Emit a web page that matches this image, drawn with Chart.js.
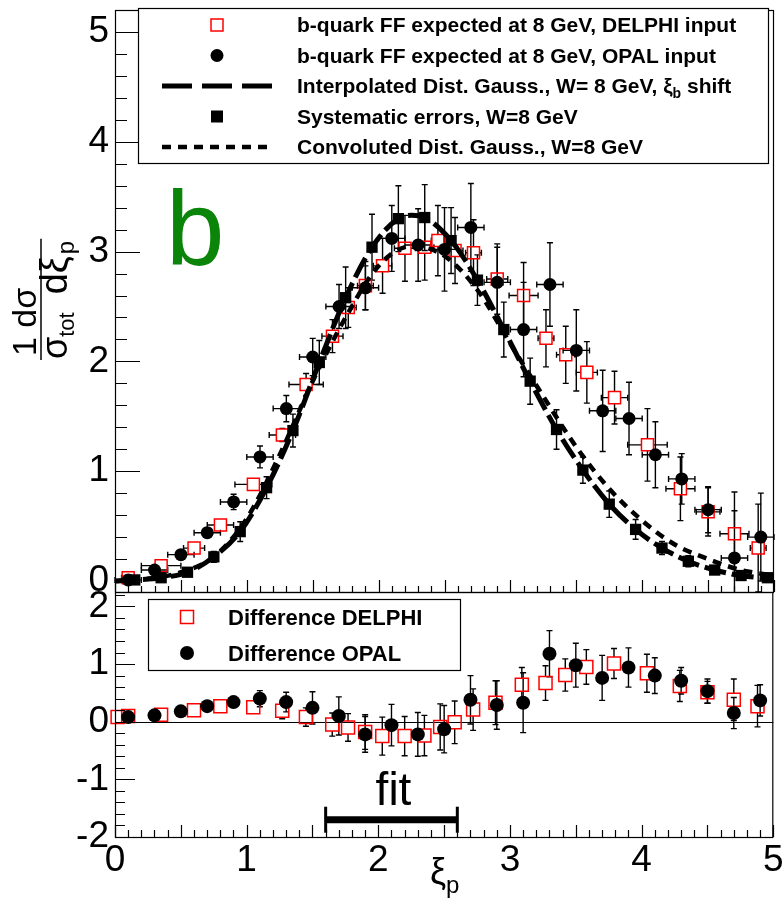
<!DOCTYPE html>
<html>
<head>
<meta charset="utf-8">
<script src="https://cdn.jsdelivr.net/npm/chart.js@4.4.0/dist/chart.umd.min.js"></script>
<style>
  body { margin: 0; background: #fff; }
  #wrap { position: relative; width: 784px; height: 900px; }
  #wrap canvas { position: absolute; left: 0; top: 0; }
</style>
</head>
<body>
<div id="wrap">
  <canvas id="topPanel" width="784" height="900"></canvas>
  <canvas id="bottomPanel" width="784" height="900"></canvas>
</div>
<script>
const FONT = '"Liberation Sans", Arial, Helvetica, sans-serif';

// ---- upper panel: fragmentation function ----
const delphiX = [0.1, 0.35, 0.6, 0.8, 1.05, 1.27, 1.45, 1.65, 1.77, 1.9, 2.03, 2.2, 2.35, 2.45, 2.58, 2.72, 2.9, 3.1, 3.27, 3.42, 3.58, 3.79, 4.04, 4.29, 4.5, 4.7, 4.88];
const delphiY = [0.03, 0.14, 0.3, 0.51, 0.88, 1.33, 1.79, 2.23, 2.49, 2.69, 2.87, 3.03, 3.04, 3.1, 3.01, 2.99, 2.75, 2.6, 2.21, 2.06, 1.9, 1.67, 1.24, 0.84, 0.63, 0.43, 0.3];
const delphiXErr = [0.05, 0.15, 0.08, 0.1, 0.14, 0.1, 0.13, 0.08, 0.06, 0.06, 0.07, 0.08, 0.07, 0.05, 0.06, 0.06, 0.08, 0.11, 0.06, 0.07, 0.08, 0.1, 0.15, 0.11, 0.09, 0.11, 0.06];
const delphiYErr = [0.02, 0.02, 0.03, 0.03, 0.04, 0.06, 0.1, 0.15, 0.18, 0.22, 0.25, 0.3, 0.3, 0.32, 0.3, 0.3, 0.32, 0.3, 0.26, 0.26, 0.28, 0.24, 0.33, 0.29, 0.22, 0.38, 0.4];

const opalX = [0.1, 0.3, 0.5, 0.7, 0.9, 1.1, 1.3, 1.5, 1.7, 1.9, 2.1, 2.3, 2.5, 2.7, 2.9, 3.1, 3.3, 3.5, 3.7, 3.9, 4.1, 4.3, 4.5, 4.7, 4.9];
const opalY = [0.01, 0.1, 0.24, 0.44, 0.72, 1.13, 1.57, 2.04, 2.5, 2.67, 3.12, 3.06, 3.02, 3.22, 2.72, 2.29, 2.7, 2.1, 1.55, 1.48, 1.15, 0.93, 0.65, 0.21, 0.4];
const opalXErr = [0.1, 0.1, 0.1, 0.1, 0.1, 0.1, 0.1, 0.1, 0.1, 0.1, 0.1, 0.1, 0.1, 0.1, 0.1, 0.1, 0.1, 0.1, 0.1, 0.1, 0.1, 0.1, 0.1, 0.1, 0.1];
const opalYErr = [0.02, 0.03, 0.03, 0.04, 0.07, 0.1, 0.12, 0.17, 0.2, 0.2, 0.3, 0.33, 0.38, 0.4, 0.32, 0.43, 0.38, 0.37, 0.37, 0.33, 0.3, 0.23, 0.21, 0.43, 0.4];

const sysX = [0.15, 0.35, 0.55, 0.75, 0.95, 1.15, 1.35, 1.55, 1.75, 1.95, 2.15, 2.35, 2.55, 2.75, 2.95, 3.15, 3.35, 3.55, 3.75, 3.95, 4.15, 4.35, 4.55, 4.75, 4.95];
const sysY = [0.01, 0.03, 0.08, 0.22, 0.45, 0.85, 1.37, 1.99, 2.58, 3.04, 3.3, 3.31, 3.1, 2.74, 2.29, 1.82, 1.38, 1.01, 0.7, 0.47, 0.3, 0.18, 0.1, 0.05, 0.03];
const sysYErr = [0.01, 0.02, 0.03, 0.05, 0.09, 0.1, 0.15, 0.2, 0.28, 0.3, 0.3, 0.3, 0.3, 0.23, 0.25, 0.21, 0.18, 0.12, 0.12, 0.09, 0.06, 0.05, 0.03, 0.02, 0.02];

const interpX = [0, 0.15, 0.35, 0.55, 0.75, 0.95, 1.15, 1.35, 1.55, 1.75, 1.95, 2.15, 2.25, 2.35, 2.55, 2.75, 2.95, 3.15, 3.35, 3.55, 3.75, 3.95, 4.15, 4.35, 4.55, 4.75, 4.95, 5.0];
const interpY = [0, 0.01, 0.03, 0.08, 0.22, 0.45, 0.85, 1.37, 1.99, 2.58, 3.04, 3.3, 3.33, 3.31, 3.1, 2.74, 2.29, 1.82, 1.38, 1.01, 0.7, 0.47, 0.3, 0.18, 0.1, 0.05, 0.03, 0.03];

const convX = [0, 0.25, 0.5, 0.75, 1.0, 1.25, 1.5, 1.75, 2.0, 2.25, 2.5, 2.75, 3.0, 3.25, 3.5, 3.75, 4.0, 4.25, 4.5, 4.75, 5.0];
const convY = [0.0, 0.02, 0.08, 0.22, 0.57, 1.15, 1.82, 2.4, 2.87, 3.05, 2.96, 2.65, 2.16, 1.68, 1.22, 0.84, 0.55, 0.33, 0.2, 0.1, 0.05];

// ---- lower panel: differences ----
const diffDelphiX = [0.02, 0.1, 0.35, 0.6, 0.8, 1.05, 1.27, 1.45, 1.65, 1.77, 1.9, 2.03, 2.2, 2.35, 2.47, 2.58, 2.72, 2.89, 3.09, 3.27, 3.42, 3.58, 3.79, 4.04, 4.29, 4.5, 4.7, 4.88];
const diffDelphiY = [0.08, 0.1, 0.12, 0.2, 0.27, 0.25, 0.19, 0.08, -0.05, -0.1, -0.18, -0.25, -0.25, -0.24, -0.09, -0.01, 0.21, 0.33, 0.64, 0.67, 0.81, 0.95, 1.01, 0.84, 0.62, 0.51, 0.38, 0.27];
const diffDelphiErr = [0.01, 0.01, 0.01, 0.02, 0.03, 0.1, 0.14, 0.16, 0.2, 0.24, 0.3, 0.33, 0.34, 0.35, 0.4, 0.37, 0.36, 0.38, 0.3, 0.3, 0.28, 0.3, 0.26, 0.33, 0.27, 0.19, 0.36, 0.36];

const diffOpalX = [0.1, 0.3, 0.5, 0.7, 0.9, 1.1, 1.3, 1.5, 1.7, 1.9, 2.1, 2.3, 2.5, 2.7, 2.9, 3.1, 3.3, 3.5, 3.7, 3.9, 4.1, 4.3, 4.5, 4.7, 4.9];
const diffOpalY = [0.08, 0.11, 0.18, 0.27, 0.34, 0.4, 0.34, 0.24, 0.1, -0.22, -0.06, -0.22, -0.13, 0.38, 0.29, 0.33, 1.18, 0.98, 0.76, 0.94, 0.8, 0.71, 0.53, 0.15, 0.37];
const diffOpalErr = [0.01, 0.01, 0.02, 0.03, 0.05, 0.14, 0.17, 0.28, 0.33, 0.31, 0.36, 0.38, 0.41, 0.42, 0.42, 0.52, 0.4, 0.38, 0.39, 0.34, 0.31, 0.23, 0.21, 0.27, 0.27];

// ---- axes, labels ----
const xTicks = [0, 1, 2, 3, 4, 5];
const yTicksTop = [0, 1, 2, 3, 4, 5];
const yTicksBottom = [-2, -1, 0, 1, 2];
const fitRange = [1.6, 2.6];
const fitLevel = -1.7;

const legendTop = [
  'b-quark FF expected at 8 GeV, DELPHI input',
  'b-quark FF expected at 8 GeV, OPAL input',
  'Interpolated Dist. Gauss., W= 8 GeV, ',
  'Systematic errors, W=8 GeV',
  'Convoluted Dist. Gauss., W=8 GeV'
];
const legendBottom = ['Difference DELPHI', 'Difference OPAL'];

const pts = (xs, ys) => xs.map((x, i) => ({ x, y: ys[i] }));

function seg(ctx, x1, y1, x2, y2) {
  ctx.beginPath(); ctx.moveTo(x1, y1); ctx.lineTo(x2, y2); ctx.stroke();
}

// error bars (ROOT style, black, with small end caps, gap around open markers)
const errorBars = {
  id: 'errorBars',
  beforeDatasetsDraw(chart) {
    const { ctx, chartArea: a, scales: { x, y } } = chart;
    ctx.save();
    ctx.beginPath();
    ctx.rect(a.left - 10, a.top, a.width + 20, a.height);
    ctx.clip();
    ctx.strokeStyle = '#000';
    ctx.lineWidth = 1.4;
    chart.data.datasets.forEach(ds => {
      if (!ds.errY) return;
      const gap = ds.barGap || 0, cap = 3;
      ctx.beginPath();
      ds.data.forEach((p, i) => {
        const px = x.getPixelForValue(p.x), py = y.getPixelForValue(p.y);
        const ey = ds.errY[i] || 0, ex = ds.errX ? ds.errX[i] : 0;
        if (ey) {
          const t = y.getPixelForValue(p.y + ey), b = y.getPixelForValue(p.y - ey);
          if (py - t > gap) { ctx.moveTo(px, py - gap); ctx.lineTo(px, t); ctx.moveTo(px - cap, t); ctx.lineTo(px + cap, t); }
          if (b - py > gap) { ctx.moveTo(px, py + gap); ctx.lineTo(px, b); ctx.moveTo(px - cap, b); ctx.lineTo(px + cap, b); }
        }
        if (ex) {
          const l = x.getPixelForValue(p.x - ex), r = x.getPixelForValue(p.x + ex);
          if (px - l > gap) { ctx.moveTo(px - gap, py); ctx.lineTo(l, py); ctx.moveTo(l, py - cap); ctx.lineTo(l, py + cap); }
          if (r - px > gap) { ctx.moveTo(px + gap, py); ctx.lineTo(r, py); ctx.moveTo(r, py - cap); ctx.lineTo(r, py + cap); }
        }
      });
      ctx.stroke();
    });
    ctx.restore();
  }
};

// frame + inward ticks
const rootAxes = {
  id: 'rootAxes',
  afterDatasetsDraw(chart, args, o) {
    const { ctx, chartArea: a, scales: { x, y } } = chart;
    const each = (min, max, step, fn) => {
      for (let k = Math.ceil(min / step - 1e-6); k * step <= max + 1e-6; k++) fn(k * step, k);
    };
    ctx.save();
    ctx.strokeStyle = '#000';
    ctx.lineWidth = 1.2;
    ctx.strokeRect(a.left + 0.5, a.top + 0.5, a.width - 1, a.height);
    ctx.beginPath();
    const yr = Math.round(o.yMajor / o.yMinor), xr = Math.round(o.xMajor / o.xMinor);
    each(y.min, y.max, o.yMinor, (v, k) => {
      const p = Math.round(y.getPixelForValue(v)) + 0.5;
      ctx.moveTo(a.left, p); ctx.lineTo(a.left + (k % yr === 0 ? o.yMajorLen : o.yMinorLen), p);
    });
    each(x.min, x.max, o.xMinor, (v, k) => {
      const p = Math.round(x.getPixelForValue(v)) + 0.5;
      ctx.moveTo(p, a.bottom); ctx.lineTo(p, a.bottom - (k % xr === 0 ? o.xMajorLen : o.xMinorLen));
    });
    ctx.stroke();
    ctx.restore();
  }
};

function richText(ctx, parts, x, y) {
  parts.forEach(([t, font, dy, dx]) => {
    ctx.font = font;
    x += dx || 0;
    ctx.fillText(t, x, y + (dy || 0));
    x += ctx.measureText(t).width;
  });
  return x;
}

const topDecor = {
  id: 'topDecor',
  afterDraw(chart) {
    const ctx = chart.ctx;
    ctx.save();
    // big green "b"
    ctx.fillStyle = '#0a850a';
    ctx.font = `105px ${FONT}`;
    ctx.textBaseline = 'alphabetic';
    ctx.fillText('b', 166, 265);

    // legend
    ctx.fillStyle = '#fff';
    ctx.fillRect(138, 8, 631, 156);
    ctx.strokeStyle = '#000';
    ctx.lineWidth = 1.2;
    ctx.strokeRect(138.5, 8.5, 630, 155);
    const rows = [25, 55.5, 86, 116.5, 147];
    const sx = 217;
    ctx.strokeStyle = '#ff0000'; ctx.lineWidth = 1.5;
    ctx.strokeRect(sx - 6, rows[0] - 6, 12, 12);
    ctx.fillStyle = '#000';
    ctx.beginPath(); ctx.arc(sx, rows[1], 6.5, 0, Math.PI * 2); ctx.fill();
    ctx.strokeStyle = '#000'; ctx.lineWidth = 5; ctx.setLineDash([30, 10]);
    seg(ctx, 162, rows[2], 272, rows[2]);
    ctx.setLineDash([]);
    ctx.fillRect(sx - 6, rows[3] - 6, 12, 12);
    ctx.lineWidth = 4.5; ctx.setLineDash([9, 7]);
    seg(ctx, 162, rows[4], 272, rows[4]);
    ctx.setLineDash([]);

    ctx.fillStyle = '#000';
    ctx.textBaseline = 'alphabetic';
    const bold = `bold 21px ${FONT}`;
    legendTop.forEach((t, i) => {
      if (i === 2) {
        richText(ctx, [[t, bold], ['ξ', bold], ['b', `bold 14px ${FONT}`, 5], [' shift', bold]], 297, rows[i] + 7);
      } else {
        ctx.font = bold;
        ctx.fillText(t, 297, rows[i] + 7);
      }
    });

    // y-axis title: 1/sigma_tot dsigma/dxi_p
    ctx.translate(41, 360);
    ctx.rotate(-Math.PI / 2);
    ctx.font = `34px ${FONT}`;
    ctx.fillText('1 dσ', 4, -5);
    const end = richText(ctx, [
      ['σ', `36px ${FONT}`, 26, 1],
      ['tot', `22px ${FONT}`, 33],
      ['dξ', `38px ${FONT}`, 26, 18],
      ['p', `24px ${FONT}`, 33, 2]
    ], 0, 0);
    ctx.lineWidth = 1.5;
    seg(ctx, 0, 0, end + 2, 0);
    ctx.restore();
  }
};

const bottomDecor = {
  id: 'bottomDecor',
  beforeDatasetsDraw(chart) {
    const { ctx, chartArea: a, scales: { y } } = chart;
    ctx.save();
    ctx.strokeStyle = '#000'; ctx.lineWidth = 1.2;
    const p = Math.round(y.getPixelForValue(0)) + 0.5;
    seg(ctx, a.left, p, a.right, p);
    ctx.restore();
  },
  afterDraw(chart) {
    const { ctx, scales: { x, y } } = chart;
    ctx.save();
    // legend
    ctx.fillStyle = '#fff';
    ctx.fillRect(148, 599, 313, 72);
    ctx.strokeStyle = '#000'; ctx.lineWidth = 1.2;
    ctx.strokeRect(148.5, 599.5, 312, 71);
    const rows = [617, 653], sx = 187;
    ctx.strokeStyle = '#ff0000'; ctx.lineWidth = 1.5;
    ctx.strokeRect(sx - 6.5, rows[0] - 6.5, 13, 13);
    ctx.fillStyle = '#000';
    ctx.beginPath(); ctx.arc(sx, rows[1], 7, 0, Math.PI * 2); ctx.fill();
    ctx.font = `bold 22px ${FONT}`;
    ctx.textBaseline = 'alphabetic';
    legendBottom.forEach((t, i) => ctx.fillText(t, 228, rows[i] + 8));

    // fit range bar
    const x1 = x.getPixelForValue(fitRange[0]), x2 = x.getPixelForValue(fitRange[1]);
    const fy = y.getPixelForValue(fitLevel);
    ctx.strokeStyle = '#000';
    ctx.lineWidth = 7;
    seg(ctx, x1, fy, x2, fy);
    ctx.lineWidth = 3;
    seg(ctx, x1, fy - 13, x1, fy + 13);
    seg(ctx, x2, fy - 13, x2, fy + 13);
    ctx.font = `46px ${FONT}`;
    ctx.textAlign = 'center';
    ctx.fillText('fit', (x1 + x2) / 2 + 2, fy - 15);

    // x-axis title
    ctx.textAlign = 'left';
    richText(ctx, [['ξ', `36px ${FONT}`], ['p', `24px ${FONT}`, 9]], 430, 884);
    ctx.restore();
  }
};

const noGrid = { display: false, drawTicks: false };
const tickFont = { family: FONT, size: 37 };

new Chart(document.getElementById('topPanel'), {
  type: 'scatter',
  data: {
    datasets: [
      { label: 'DELPHI', data: pts(delphiX, delphiY), errX: delphiXErr, errY: delphiYErr, barGap: 6,
        pointStyle: 'rect', pointRadius: 8.5, borderColor: '#ff0000', borderWidth: 1.5,
        backgroundColor: 'rgba(0,0,0,0)', order: 5, clip: false },
      { label: 'OPAL', data: pts(opalX, opalY), errX: opalXErr, errY: opalYErr,
        pointStyle: 'circle', pointRadius: 6.5, backgroundColor: '#000', borderWidth: 0, order: 4, clip: false },
      { label: 'Convoluted', data: pts(convX, convY), showLine: true, borderColor: '#000', borderWidth: 4.5,
        borderDash: [9, 7], pointRadius: 0, cubicInterpolationMode: 'monotone', order: 3 },
      { label: 'Interpolated', data: pts(interpX, interpY), showLine: true, borderColor: '#000', borderWidth: 5,
        borderDash: [22, 6], pointRadius: 0, cubicInterpolationMode: 'monotone', order: 2 },
      { label: 'Systematic', data: pts(sysX, sysY), errY: sysYErr,
        pointStyle: 'rect', pointRadius: 8, backgroundColor: '#000', borderWidth: 0, order: 1 }
    ]
  },
  options: {
    responsive: false,
    animation: false,
    devicePixelRatio: 1,
    events: [],
    layout: { padding: { top: 5, right: 7, bottom: 0, left: 0 } },
    scales: {
      x: {
        type: 'linear', min: 0, max: 5,
        grid: noGrid, border: { display: false }, ticks: { display: false },
        afterFit(s) { s.height = 308; s.paddingLeft = 0; s.paddingRight = 0; }
      },
      y: {
        type: 'linear', min: -0.1, max: 5.2,
        grid: noGrid, border: { display: false },
        ticks: { color: '#000', font: tickFont, padding: 6 },
        afterBuildTicks(s) { s.ticks = yTicksTop.map(v => ({ value: v })); },
        afterFit(s) { s.width = 115; s.paddingTop = 0; s.paddingBottom = 0; }
      }
    },
    plugins: {
      legend: { display: false },
      tooltip: { enabled: false },
      rootAxes: { yMajor: 1, yMinor: 0.2, yMajorLen: 25, yMinorLen: 12, xMajor: 0.5, xMinor: 0.1, xMajorLen: 12, xMinorLen: 6 }
    }
  },
  plugins: [errorBars, rootAxes, topDecor]
});

new Chart(document.getElementById('bottomPanel'), {
  type: 'scatter',
  data: {
    datasets: [
      { label: 'Difference DELPHI', data: pts(diffDelphiX, diffDelphiY), errY: diffDelphiErr, barGap: 6.5,
        pointStyle: 'rect', pointRadius: 9.2, borderColor: '#ff0000', borderWidth: 1.5,
        backgroundColor: 'rgba(0,0,0,0)', order: 2, clip: false },
      { label: 'Difference OPAL', data: pts(diffOpalX, diffOpalY), errY: diffOpalErr,
        pointStyle: 'circle', pointRadius: 7, backgroundColor: '#000', borderWidth: 0, order: 1, clip: false }
    ]
  },
  options: {
    responsive: false,
    animation: false,
    devicePixelRatio: 1,
    events: [],
    layout: { padding: { top: 592, right: 7, bottom: 0, left: 0 } },
    scales: {
      x: {
        type: 'linear', min: 0, max: 5,
        grid: noGrid, border: { display: false },
        ticks: { color: '#000', font: tickFont, padding: 2, maxRotation: 0 },
        afterBuildTicks(s) { s.ticks = xTicks.map(v => ({ value: v })); },
        afterFit(s) { s.height = 63; s.paddingLeft = 0; s.paddingRight = 0; }
      },
      y: {
        type: 'linear', min: -2, max: 2.25,
        grid: noGrid, border: { display: false },
        ticks: { color: '#000', font: tickFont, padding: 6 },
        afterBuildTicks(s) { s.ticks = yTicksBottom.map(v => ({ value: v })); },
        afterFit(s) { s.width = 115; s.paddingTop = 0; s.paddingBottom = 0; }
      }
    },
    plugins: {
      legend: { display: false },
      tooltip: { enabled: false },
      rootAxes: { yMajor: 1, yMinor: 0.2, yMajorLen: 20, yMinorLen: 10, xMajor: 0.5, xMinor: 0.1, xMajorLen: 12, xMinorLen: 7 }
    }
  },
  plugins: [errorBars, rootAxes, bottomDecor]
});
</script>
</body>
</html>
